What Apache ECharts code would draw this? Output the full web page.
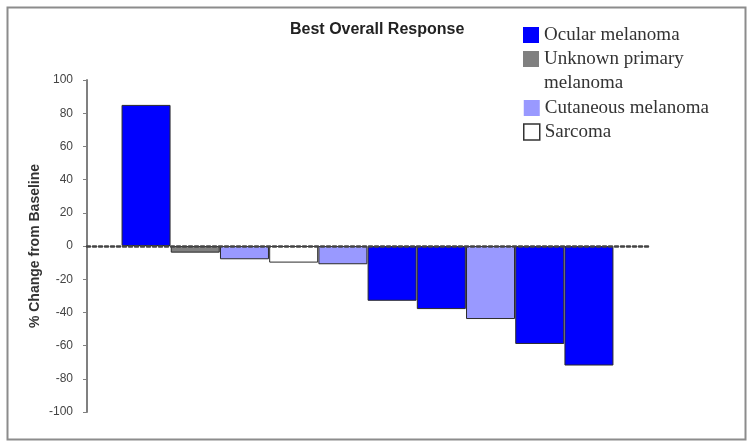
<!DOCTYPE html>
<html>
<head>
<meta charset="utf-8">
<script src="https://cdn.jsdelivr.net/npm/echarts@6/dist/echarts.min.js"></script>
<style>
html,body{margin:0;padding:0;background:#fff;}
#chart{width:750px;height:444px;}
</style>
</head>
<body>
<div id="chart"></div>
<script>
// Data
var patients = [1, 2, 3, 4, 5, 6, 7, 8, 9, 10];
var changes = [85, -4, -8, -10, -11, -33, -38, -44, -59, -72];
var tumourTypes = ['Ocular melanoma', 'Unknown primary melanoma', 'Cutaneous melanoma', 'Sarcoma',
                   'Cutaneous melanoma', 'Ocular melanoma', 'Ocular melanoma', 'Cutaneous melanoma',
                   'Ocular melanoma', 'Ocular melanoma'];
var typeNames = ['Ocular melanoma', 'Unknown primary melanoma', 'Cutaneous melanoma', 'Sarcoma'];
var typeColors = ['#0000ff', '#808080', '#9999ff', '#ffffff'];
var yTicks = [-100, -80, -60, -40, -20, 0, 20, 40, 60, 80, 100];

var chart = echarts.init(document.getElementById('chart'));

var series = typeNames.map(function (t, k) {
  var d = [];
  patients.forEach(function (p, i) {
    if (tumourTypes[i] === t) d.push([p, changes[i]]);
  });
  return {
    name: t,
    type: 'bar',
    stack: 'all',
    barWidth: 49,
    data: d,
    itemStyle: { color: typeColors[k], borderColor: '#2a2a2a', borderWidth: 1 },
    emphasis: { disabled: true }
  };
});

var legendText = { fontFamily: 'Liberation Serif', fontSize: 19, color: '#333', lineHeight: 24 };
function legendBase(top, names, fmt) {
  var o = {
    orient: 'vertical', left: 523, top: top, itemGap: 0, padding: 0,
    itemWidth: 16, itemHeight: 16, icon: 'rect',
    selectedMode: false,
    itemStyle: { borderWidth: 0 },
    data: names.map(function (n) {
      return n === 'Sarcoma'
        ? { name: n, itemStyle: { borderColor: '#333', borderWidth: 1.5 } }
        : { name: n };
    }),
    textStyle: legendText
  };
  if (fmt) o.formatter = fmt;
  return o;
}

chart.setOption({
  animation: false,
  title: {
    text: 'Best Overall Response',
    left: 285, top: 17,
    textStyle: { fontFamily: 'Liberation Sans', fontWeight: 'bold', fontSize: 16, color: '#222' }
  },
  graphic: [{
    type: 'rect', left: 5, top: 5, z: -1,
    shape: { width: 738, height: 432 },
    style: { fill: 'none', stroke: '#8c8c8c', lineWidth: 2 }
  }],
  legend: [
    legendBase(23, [typeNames[0]]),
    legendBase(23, [typeNames[1]], function (n) { return ' \n' + n.replace('primary ', 'primary\n'); }),
    legendBase(96, [typeNames[2], typeNames[3]])
  ],
  grid: { left: 87, right: 102, top: 80, bottom: 32 },
  xAxis: {
    type: 'value', min: -0.2, max: 11.2, z: 5,
    axisLine: { show: true, onZero: true, lineStyle: { color: '#444', width: 2.5, type: [3, 3] } },
    axisTick: { show: false }, axisLabel: { show: false }, splitLine: { show: false }
  },
  yAxis: {
    type: 'value', min: yTicks[0], max: yTicks[yTicks.length - 1], interval: 20,
    name: '% Change from Baseline', nameLocation: 'middle', nameGap: 45, nameMoveOverlap: false,
    nameTextStyle: { fontFamily: 'Liberation Sans', fontWeight: 'bold', fontSize: 14, color: '#333' },
    axisLine: { show: true, onZero: false, lineStyle: { color: '#808080', width: 2 } },
    axisTick: { show: true, length: 4, lineStyle: { color: '#808080' } },
    axisLabel: { margin: 14, fontFamily: 'Liberation Sans', fontSize: 12, color: '#444' },
    splitLine: { show: false }
  },
  series: series
});
</script>
</body>
</html>
